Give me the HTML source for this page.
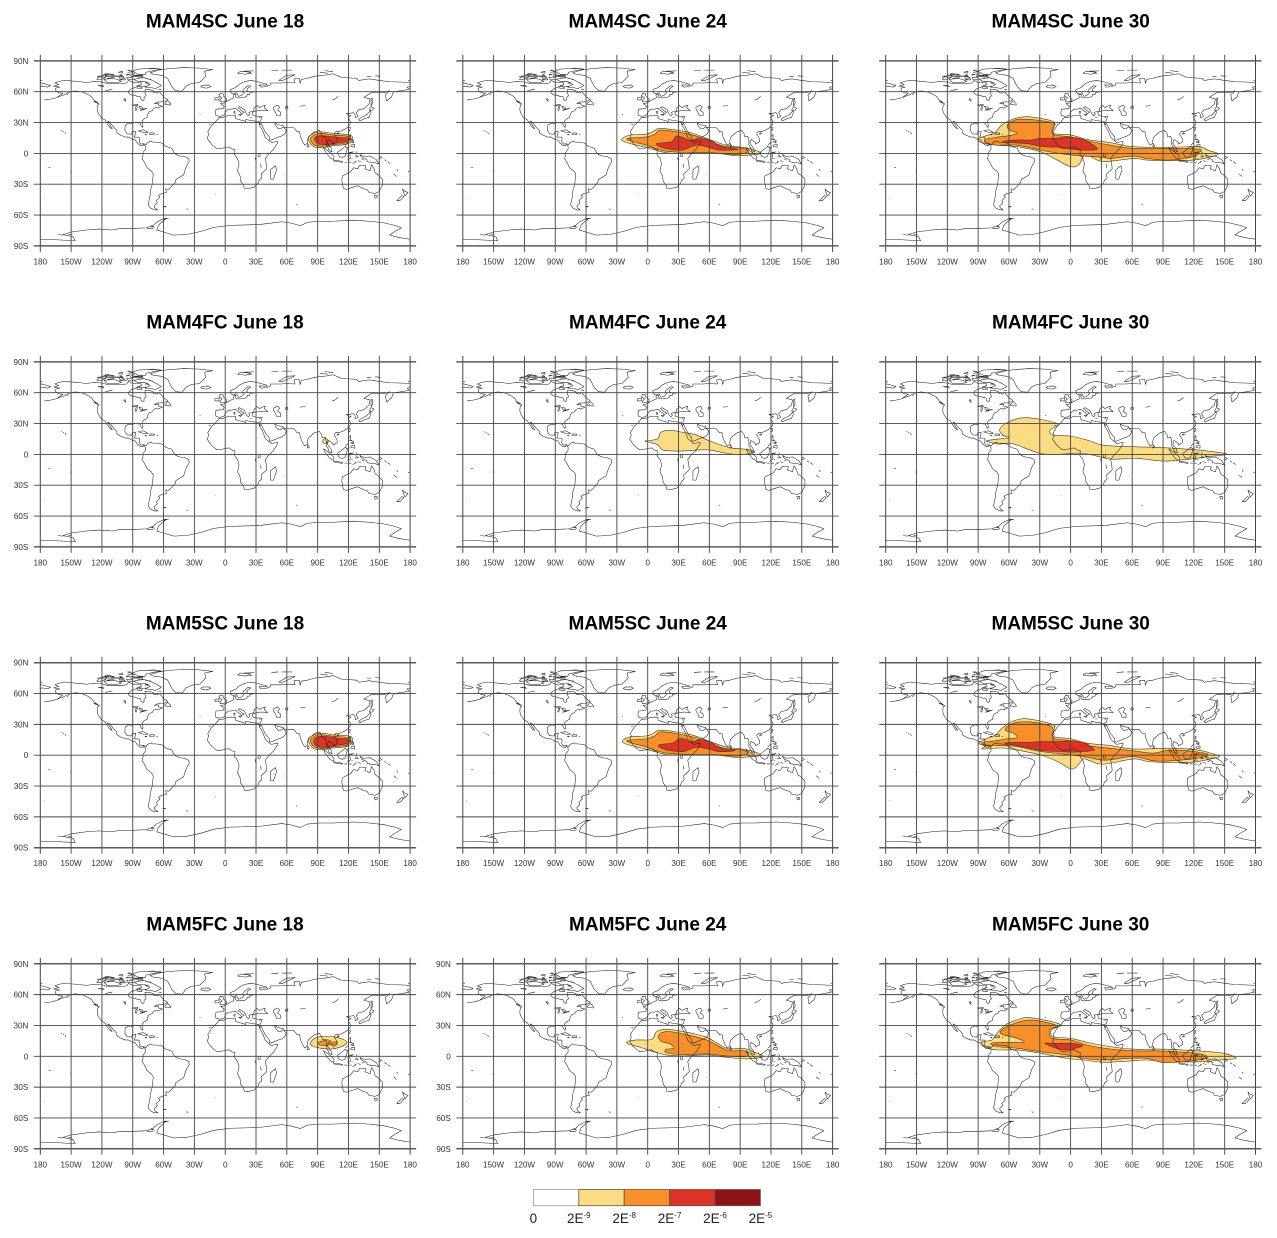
<!DOCTYPE html>
<html>
<head>
<meta charset="utf-8">
<title>Aerosol plume maps</title>
<style>
html,body{margin:0;padding:0;background:#fff;}
svg{display:block;font-family:"Liberation Sans",Arial,sans-serif;filter:blur(0.35px);}
</style>
</head>
<body>
<svg id="chart" xmlns="http://www.w3.org/2000/svg" width="1277" height="1238" viewBox="0 0 1277 1238"></svg>
<script>
// ---------- axis tick labels ----------
const lonTicks = [-180,-150,-120,-90,-60,-30,0,30,60,90,120,150,180];
const lonLabels = ["180","150W","120W","90W","60W","30W","0","30E","60E","90E","120E","150E","180"];
const latTicks = [90,60,30,0,-30,-60,-90];
const latLabels = ["90N","60N","30N","0","30S","60S","90S"];

// ---------- legend ----------
const legendColors = ["#ffffff","#fcdb85","#f98f2b","#dd3226","#8c1318"];
const legendBase = ["0","2E","2E","2E","2E","2E"];
const legendExp = ["","-9","-8","-7","-6","-5"];

// ---------- coastlines, [lon,lat] ----------
const coastLines = [
[-166,68.5,-162,70,-156,71.2,-150,70.5,-141,69.7,-135,69,-128,70,-120,69.5,-115,68,-108,68,-100,68,-96,68.5,-94,71,-90,69,-86,69,-82,69,-81.5,67,-85,66,-87,64.5,-92,62.5,-94.5,60,-94,58.7,-92,57,-88,56.5,-85,55.3,-82.3,55,-82,52.7,-80,51.3,-79,52,-79,54.5,-77,56,-78,58.5,-78,62.3,-73,62,-70,61,-69.5,59,-66,58.8,-64.5,60.3,-62,57.5,-60,55,-56,52.5,-60,50.2,-66,50,-69,48.5,-65,49,-65,47,-61,46,-65.5,44,-67,45,-70,43.5,-71,41.5,-74,40.5,-75.5,38,-76,35,-79,33.5,-81,31.5,-80,27,-80.5,25.2,-82,27,-83,29.5,-85,29.7,-89,30,-90,29,-94,29.5,-97.3,27.5,-97.7,22.5,-95.5,19,-91,18.7,-90.5,21,-87,21.3,-88,17,-88.5,15.8,-84,15.8,-83.3,14.8,-83.7,11,-82,9,-79.5,9.5,-77,8.5,-75.5,10.7,-72,12,-71,11,-68,11,-64,10.5,-61.5,10,-58,7,-52,5,-50,1,-48,-1,-44,-2.5,-40,-3,-35.5,-5,-35,-8,-37.5,-12,-39,-16,-40.5,-21,-44,-23,-48,-25.5,-48.7,-28.5,-53,-33,-55,-35,-58,-34.5,-57,-38,-62,-39,-65,-41,-63.5,-42.5,-67,-46,-66,-48,-69,-51,-68.5,-53,-65.5,-55,-69,-55,-73,-53,-75,-50,-74,-45,-73,-40,-73,-37,-71,-30,-70,-20,-72,-17,-76,-14,-79,-8,-81,-5,-80,-2,-80,1,-77.5,4,-77.5,7,-79.5,9,-80,7.5,-83,8,-85.5,10,-87.5,13,-91,14,-94.5,16,-97,15.8,-101.5,17.5,-105.5,20,-105.5,22.5,-109,26,-113,31,-114.5,31.5,-112.5,28,-110,24,-112,25,-115,29,-117,32.5,-120.5,34.5,-122.5,37.5,-124,40,-124.5,43,-124,47,-122.5,48,-125,50,-128,52,-130,55,-133,57,-136,58.5,-140,60,-146,60.8,-150,60,-153,59,-158,56.5,-163,55,-158,58.5,-162,59,-165,61,-165,63.5,-161,64.5,-167,65.5,-162,67,-166,68.5],
[-42,60.5,-48,61,-52,65,-54,69,-56,73,-62,76,-70,77,-73,78.5,-65,81,-55,82.5,-40,83.5,-25,83,-12,81.5,-20,80,-19,75,-22,72,-25,69,-33,68,-38,65.5,-42,60.5],
[-62,66,-68,63,-72,64,-78,64.5,-73,67,-78,70,-85,70,-89,72,-80,74,-72,71.5,-67,69,-62,66],
[-105,69,-115,69,-118,72,-110,73,-105,72,-101,70,-105,69],
[-120,72,-125,72,-123,74.5,-116,74,-120,72],
[-62,82,-70,83,-85,82,-90,80,-85,77,-78,76.5,-77,79,-68,81,-62,82],
[-80,75,-92,75,-92,76.5,-80,75.5,-80,75],
[-105,75,-117,75,-114,76.5,-105,75],
[-90,79,-95,81,-92,81,-90,79],
[-90,72,-95,72,-96,74,-90,73.7,-90,72],
[-98,74,-103,73,-102,76,-98,74],
[-108,76.5,-118,76,-116,78,-108,76.5],
[-100,78,-104,79,-100,80,-100,78],[-112,77.5,-120,76],[-85,76.3,-80,76.3],[-96,76,-93,77,-96,77,-96,76],[-78,73,-72,72],
[-85,73.5,-80,73.5,-85,73,-85,73.5],[-110,75,-100,75.5,-100,74.8,-110,75],[-115,73,-108,73.8],[-90,76,-85,75.5,-82,76.5],
[-125,75,-118,75.5],[-103,71.5,-97,71.5,-98,73,-103,71.5],[-75,68,-78,68.5,-75,69,-75,68],[-84,65.8,-80,65,-76,65.5],
[-65,82.5,-75,82.5],[-88,78,-95,78.5],[-65,62.5,-62,62],[-100,76,-103,77],
[-81,63,-86,63.5,-85,65.5,-81,64,-81,63],
[-53,47,-59,48,-56,51.5,-53,48.5,-53,47],
[-124,48.5,-128,50.5,-125,50,-124,48.5],
[-85,22,-80,23,-75,20.5,-78,20,-85,22],
[-74,18.5,-69,18.5,-69,19.8,-73,20,-74,18.5],
[-78,18,-76.5,18,-76.5,18.4,-78,18.4,-78,18],
[-67,18,-65.5,18.2],
[-160,22,-159,22],[-158,21.5,-157,21],[-156,20.5,-155,19.5,-155.5,19],
[-176,52,-170,52.8,-165,54,-162,55],[-154,57,-152.5,58],
[-91,47,-85,47.5,-85,46.5,-88,46.5,-91,47],
[-87.5,42,-86.5,42,-85.5,45.5,-87,45.5,-87.5,42],
[-84,46,-80.5,45,-80,44,-82,43,-84,46],
[-83,41.7,-79,42.7,-76,44,-79.5,43.2,-83,41.7],
[-124,66,-119,66,-118,65,-124,66],[-117,61,-110,62.5,-112,62,-117,61],
[-99,53,-97,50.5,-97,53,-99,53],
[-61,-52,-58,-51.5,-58,-52,-61,-52],[-38,-54,-36,-54.5],[-151,-17,-149.5,-17.5],[-172,-13.5,-170,-14],[-176.5,-44,-176,-44.2],[-9.5,-40,-9,-40.2],
[69,-49.5,70.5,-49.3],[-16,28,-14,28.5],[-25,38,-24,37.8],[-91,-0.5,-90,-0.5],
[-24,65,-22,64,-18,63.5,-14,65,-16,66.5,-22,66.3,-24,65],
[-5,50,1,51,1.5,53,-2,56,-2,58,-5,58.5,-6,56,-3,54,-5,52,-5,50],
[-10,52,-6,52,-6,55,-10,54,-10,52],
[12,78,20,77,25,79,15,80,12,78],[22,78,26,77.5],[18,80,28,80.3],
[52,71,56,71,68,76.5,60,76,52,71],[45,80.5,52,81],[55,81,65,81],[92,79,100,78],[97,80.5,105,79.5],
[138,75,142,75],[146,75.5,151,75],[178,71,180,71.3],[-180,71.3,-178,71],
[-180,68.8,-175,67.5,-170,66,-173,64.5,-178,65.5,-180,65],
[-9,37,-9.5,39,-9,43,-2,43.5,-1,46,-4.5,48.5,-1,49,2,51,4,52,7,53.5,8.5,54,8,57,10.5,57.5,10,55,12,54,14,54,19,54.5,21,55.5,21.5,57.5,24,57.5,24,59,29,60,23,60,21,61,21.5,63,25,65.5,22,65.8,17.5,62,17,60.5,18.5,59.5,16.5,57,14.5,56,13,55.5,11,59,8,58,5.5,59,5,62,10,64,14,67.5,19,70,25,71,31,70,40,67.5,41,66.5,33,66.7,35,64.5,40,65,44,66.5,44,68.5,54,68.5,60,69,68,68.5,67,72.5,72,73,73,68,74,72,80,73,87,75,100,76.5,105,77.5,113,74,128,73,130,71,140,72.5,150,71,160,69.7,170,69.5,180,69],
[180,65,177,64.5,179,62.5,172,61,164,60,163,58,162,55,157,51,156,57,160,61,155,59,150,59.5,142,59,135,54.5,141,53,140,48,135,43.5,130,42.5,127.5,39.5,129.5,36,126.5,34.5,126.5,37.5,125,39.7,121.5,39,118,39,120,37.5,122.5,37,119.5,35,122,31,121.5,28,118,24.5,114,22.3,110,21,108,21.5,106,19,109,14,109,11.5,105,9,105,10.5,102.5,12.5,100.5,13.5,99.5,10,103,5,104,1.5,101,3,100,6,98.5,8,98.5,13,97.5,16.5,94.5,16,94,19,91.5,22.5,89,21.7,87,21,85,19.5,81,16,80,13,80,10,77.5,8,75.5,11,73,17,72.5,21,70,21,68,23.5,66.5,25.2,61,25.2,57,25.5,56.5,27,51,28,48,30,49,27,51,25,51.5,24,54,24,56.5,26,59.5,22.5,58,19,55,17,52,16,45,13,43,13,43,16,39,21,35.5,28,34.8,29.5,34,28,32.7,30,33.5,27,35.5,24,37,21,39,15.5,43,12,45,10.5,51,11.8,51,10,47,4,42,-1,39,-5,40,-10,40.5,-15,35,-20,35.5,-24,33,-26,32,-29,28,-33,22,-34.3,18.5,-34,18,-31,15,-27,14.5,-22,12,-17,13.5,-10,12,-5,9,-1,9.5,3.5,6,4.5,4,6.3,1,6,-3,5,-8,4.5,-13,8.5,-15,11,-17.5,14.7,-16,19,-17,21,-13,27.5,-10,30,-6,35,-2,35,3,37,10,37,10,34,15,32.5,20,31,20,33,25,32,32,31,34.5,31.5,36,36,30,36.3,27,37,26.5,40,29,41,35,42,41.5,41.5,38,44.5,39,47,35,45.5,33.5,44.5,31,46.5,28,44,28,41.5,26,40.8,23,40,24,38,22.5,36.5,21,38,19.5,41,19,42.5,14,45.5,12.5,44.5,16,41.5,18.5,40,16.5,39,16,38,15,40,12,42,10,44,6,43,3,43,0,40,-0.5,38,-2,36.7,-5.5,36,-9,37],
[47,45,51,47,53,45,51,42,54,40,54,37,50,37,49,40,47,43,47,45],
[59,46,61,46,61,44,58.5,44,59,46],[73,46,78,46.5],[104,52,107,53,110,55.5],
[32,0,34,0,34,-3,32,-3,32,0],[29,-4,30,-8],[34.5,-10,35,-14],
[13,38,15.5,38,15,36.8,13,38],[8.5,39,9.5,39,9.5,41,8.5,41,8.5,39],[24,35.2,26,35.2],[33,35,34.5,35.3],
[131,31.5,136,34,140,35,142,40,141.5,41.5,140,40,137,37,132.5,35,130,33,131,31.5],
[140,42,143,42,145,44,142,45.5,140,42],[142,46,143.5,49,143,54,142,53,142,46],
[120,23,121,22,122,25,120.5,25,120,23],[109,18.5,111,19.5,110,20,109,19.5,109,18.5],
[120,16,122,18.5,122,14,124,13,120.5,13.8,120,16],[122,7,126,6,126,9,123,8.5,122,7],[122,11,125,10.5,125,12.5,122,11],[118,9,120,11],
[109,1,111,-3,114,-4,116.5,-3,118,1,119,5,117,7,114,4.5,110,1.5,109,1],
[95.5,5.5,98,4,103,0,106,-3,105.5,-6,102,-4,98,1,95.5,5.5],
[105.5,-6.5,110,-7,114.5,-8,114,-8.7,106,-7.5,105.5,-6.5],[116,-8.5,119,-8.5],[120,-8.7,123,-8.5],[124,-10,127,-8.5],
[120,1,125,1.5,121,0.3,122,-4.5,120.5,-5.5,119.5,-3,120,1],[127.5,2,128.5,0],[126,-3.5,130,-3.2],
[127,-1,129,-3],[133,-5.5,135,-6.5],[129,-7,132,-8],[119,-6,121,-7],[123,-5,124,-5.5],[118,5,121,6.5],[124,10,125,12],[117,8,119,10],[126,-8,128,-7.5],[150,-2.5,153,-4.5],
[131,-1,135,-3,141,-2.5,147,-6,150,-10.5,146,-9,143,-9,138,-8,138,-6,133,-4,131,-1],
[149,-5.5,152,-4.5],[155,-6,157,-7.5],[158,-8,161,-10],[167,-15,168,-17],[164,-20,167,-22.5],[178,-18,179.5,-17],
[80,6,82,7,80.5,9.5,80,6],[44,-25,47,-25,50,-16,49,-12,44,-16,44,-25],[55.5,-21,55.8,-21],[57.3,-20,57.6,-20.3],
[114,-22,113.5,-26,115,-34,118,-35,124,-33,129,-31.5,135,-34.5,138,-35,140,-38,146,-39,150,-37,153,-31,153,-25,149,-21,146,-19,145,-15,142.5,-11,141,-17,136,-15,137,-12,131,-11.5,129,-15,125,-14,122,-18,116,-21,114,-22],
[145,-41,148,-41,148,-43,146,-43.5,145,-41],
[172.5,-34.5,175,-37,178,-38,175,-41.5,174,-39,172.5,-34.5],[172,-41,174,-42,170,-46,167,-46,172,-41],
[-180,-84,-165,-84,-146,-85,-148,-81,-158,-79,-150,-76.5,-135,-74.5,-123,-73.6,-110,-74.5,-102,-73,-90,-73,-77,-72.5,-70,-70,-67,-67,-60,-63.5,-57,-63,-62,-67,-65,-70,-66.6,-74.6,-61.6,-76,-50,-79.5,-37,-78.8,-24,-76,-11,-72,5,-70,24,-69.5,35,-69,55,-66.5,65,-68,73,-70.4,80,-67,92,-66,105,-66,125,-65,140,-66,154,-67.5,165,-70,171.6,-72.3,165,-76,160,-79.5,170,-82,180,-83.5],
[-163,-79,-158,-79.5],[-153,-79,-149,-79],[-72,-70,-69,-72,-72,-71],[-76,-73,-70,-73],[-60,-64,-55,-63]
];

// ---------- plume contours per run/date, [lon,lat]; one array per filled level ----------
const mam4scJune18Level1 = [81,13.6,84,18.5,92.4,21,105.4,19.5,121.6,17.8,124,13,118.4,9,105.4,7.5,95.7,5.8,86,6.5];
const mam4scJune18Level2 = [83,13.6,86,17.5,93,19.5,105,18,120,16.5,122,13,117,10,105,8.5,96,7,87,8];
const mam4scJune18Level3 = [87,14,90,17,97,17,110,15.5,120,15,119,12,108,10,98,8.5,90,9.5];

const mam4scJune24Level1 = [-24.6,14.6,-17.5,17.8,-1.3,18.8,5,21,11.7,24.3,28,22.7,44,19.5,60,13.6,76.5,8,93,5.8,102.5,3.9,110.6,0,99,-1.6,86,-2.3,67,0,34,0,18,0.6,5,4,-4.5,6.5,-17.5,9.7,-24.6,12.3];
const mam4scJune24Level2 = [-19,14.6,-1.3,16,7,18.8,12.3,22.7,28,21,47,17,60,11.4,76.5,6.5,93,4.9,97.6,1.6,86,-1,63.6,0.6,34,1,15,2.6,-1.3,8,-17.5,12.3];
const mam4scJune24Level3 = [9,9.7,23,11.4,28,17,34,15.6,42.5,12.3,54,14.6,63.6,11.4,71.7,6.5,88,3.9,70,3.2,57,6.5,47,8,34,3.2,21.4,4.2,11.7,6.5];

const mam4scJune30Level1 = [-90.5,13.6,-83,17,-74,20,-67,27.6,-57,33,-42.5,35.7,-18,31.5,-16,26,-17,19.5,0,18,16,13.6,39,10.4,61,6.5,97,6,124.5,6.5,134,3,144,-0.6,134,-4,120,-6.5,97,-7,74,-6.5,61,-5,32,-8,19,-3,12.6,-3,8,-11,0,-13,-13,-6.5,-29.5,1.6,-52,6.5,-72,8,-85,10];
const mam4scJune30Level2 = [-83,13.6,-73,15.6,-62,17,-52,19.5,-60,23,-61,28.5,-52,33,-39,33,-18,30,-16,28,-18,23,-16,18,0,16,16,12.3,39,8,61,4.9,97,4.9,124.5,4.2,126,1.6,120,-3,97,-6.5,74,-4.9,61,-2.6,39,-4.9,32,-3.9,12.6,-2.6,-6.8,-0.6,-29.5,3.2,-52,8,-72,8,-81.5,10.4];
const mam4scJune30Level3 = [-66,11.4,-55,13,-39,13,-29.5,14.6,-16.5,14.6,0,15.6,12.6,13.6,26,4.9,19,3.2,3,3.9,-10,5.8,-26,6.5,-39,9,-55,10.4];

const mam4fcJune18Level1 = [95,13,97,15.5,100,14,99,11,96,11];

const mam4fcJune24Level1 = [-2.6,13,9.4,15,12.6,21.4,21.7,23.4,34.7,21.4,47.7,18.8,60.6,13,80,6.5,96,5,103.5,2.6,93,0,77,1,60.6,4.2,47.7,4.2,31.5,3.2,15,4.2,10.4,9,2.3,11.7];

const mam4fcJune30Level1 = [-81,13.5,-70,15,-60,16,-66,19,-69,24.6,-60,31.8,-42.5,35.7,-13,30,-20,23.7,-17,18.8,0,17.8,16,14,32,9,61,7.5,90.5,6.5,124.5,4.2,152,0.3,132.7,-2.3,116.4,-4.5,90.5,-6.5,64.5,-3.9,38.6,-4.5,12.6,1,-13,0,-29.5,1,-52,9,-60,11,-70,10,-81,12.5];

const mam5scJune18Level1 = [81,13.6,84,18.5,92.4,21.5,105.4,20,121.6,18.3,124,13,118.4,8.5,105.4,7,95.7,5.5,86,6.5];
const mam5scJune18Level2 = [83,13.6,86,18,93,20,105,18.5,120,17,122,13,117,9.5,105,8,96,6.5,87,8];
const mam5scJune18Level3 = [86,13.5,89,17.5,96,18.5,110,16.5,120,15.5,119,11.5,108,9.5,98,7.5,89,9];

const mam5scJune24Level1 = [-24,14.6,-17.5,17.8,-1.3,18.8,5,21,11.7,24.3,28,22.7,44,19.5,60,13.6,76.5,8,93,5.8,102.5,3.9,110,0,99,-1.6,86,-2.3,67,0,34,0,18,0.6,5,4,-4.5,6.5,-17.5,9.7,-24,12.3];
const mam5scJune24Level2 = [-19,14.6,-1.3,16,7,18.8,12.3,22.7,28,21,47,17,60,11.4,76.5,6.5,93,4.9,97.6,1.6,86,-1,63.6,0.6,34,1,15,2.6,-1.3,8,-17.5,12.3];
const mam5scJune24Level3 = [11,10,25,12,30,16,36,15.6,42.5,13,54,15,63.6,11.4,73,6.5,85,4.5,70,3.5,57,6.5,47,7.5,34,3.5,21.4,4.5,13,7];

const mam5scJune30Level1 = [-89.5,11.7,-81,16.5,-73,19.8,-67,26,-57,32.8,-42.5,35.4,-18,30,-16,24.6,-16.5,18,0,16,16,11.7,38.6,9.4,61,6,97,6.8,124.5,5,136,2,145,-1.3,132.7,-4.5,116.4,-7,90.5,-7,74,-6,61,-3.6,32,-8.8,19,-5.5,12.6,-3.6,6,-11,0,-13.3,-13,-6,-29.5,0.3,-52,5,-68,7,-86,6,-83,9];
const mam5scJune30Level2 = [-84.7,12.6,-73,14,-62,16,-52,17,-55.5,21.4,-63.6,24.3,-60,29,-52,32,-39,32.4,-20,28.5,-17,23.7,-17,16.5,0,14,16,9.4,38.6,6.8,61,4.2,80.8,2,97,5,124.5,3,134,0.3,123,-3,97,-5.5,80.8,-5.5,61,-1.3,38.6,-4.5,29,-4.5,12.6,-1.3,-6.8,1,-29.5,3.6,-52,8.4,-71.7,9.4,-83,10];
const mam5scJune30Level3 = [-65,11.7,-55.5,12.6,-39,12.6,-29.5,13.3,-13,13.3,3,14,14.3,11.7,23,5.2,12.6,3.6,0,2.9,-10,3.6,-26,4.2,-39,6.8,-55.5,10];

const mam5fcJune18Level1 = [82.7,13,88,18,97,19.5,108,18.5,116,16,118.6,13,112,9,103,7,92,8,85,10];
const mam5fcJune18Level2 = [90,13,95,15,100,16,104,14,109,14,107,11.5,101,11,95,10.5,92,11];

const mam5fcJune24Level1 = [-19.8,14.3,-10.7,15.9,3.9,16.5,8.8,24,18.5,26.3,34.7,24,57.4,18.5,76.9,7.8,93,7.8,102.8,4.5,112.5,-0.3,96.3,-2.6,76.9,-1,57.4,1.3,34.7,0.3,18.5,1.3,5.5,4.5,-7.5,8.8,-18.8,12];
const mam5fcJune24Level2 = [10.4,19,13.6,23,21.7,24,34.7,21.7,57.4,15.9,76.9,6,93,5.5,98,3,94.7,-0.3,76.9,0.3,57.4,2.3,34.7,1.6,18.5,3.6,17.8,6.8,25.6,7.8,21.7,12,13.6,14.3];

const mam5fcJune30Level1 = [-87,13.6,-76.5,15.9,-73,20.8,-63.6,30.5,-52,35.4,-39,37.6,-10,31,-18.8,25.6,-17,19,0,17.5,16,13.6,38.6,9.4,64.5,6.8,87,7,124.5,5.2,149,3,161,-2,145.6,-3.6,129.4,-5.2,97,-5.2,74,-3.6,58,-4.5,32,-5.8,12.6,-3.6,-3.6,-2,-29.5,3,-52,6.2,-71.7,6.2,-81.4,8.4];
const mam5fcJune30Level2 = [-77.5,12.6,-65,13.6,-45.7,13.6,-52,17.5,-65,20.8,-68.4,24,-58.7,30.5,-39,35.4,-13.3,29.8,-20.4,25.6,-18,17.5,0,16,16,11,38.6,7,64.5,5.2,87,5.2,124.5,2.6,132.7,-1.3,116.4,-4.5,90.5,-6,74,-2,58,-2,32,-3.6,12.6,-2,-3.6,1.3,-29.5,4.5,-52,7.8,-71.7,9.4];
const mam5fcJune30Level3 = [-25,12.6,-16.5,12.6,0,12.6,12,10.4,0,6.8,-11.7,7.1];

// ---------- panel list ----------
const panelTitles = [
 ["MAM4SC June 18","MAM4SC June 24","MAM4SC June 30"],
 ["MAM4FC June 18","MAM4FC June 24","MAM4FC June 30"],
 ["MAM5SC June 18","MAM5SC June 24","MAM5SC June 30"],
 ["MAM5FC June 18","MAM5FC June 24","MAM5FC June 30"]
];
const panelLevels = [
 [[mam4scJune18Level1,mam4scJune18Level2,mam4scJune18Level3],[mam4scJune24Level1,mam4scJune24Level2,mam4scJune24Level3],[mam4scJune30Level1,mam4scJune30Level2,mam4scJune30Level3]],
 [[mam4fcJune18Level1],[mam4fcJune24Level1],[mam4fcJune30Level1]],
 [[mam5scJune18Level1,mam5scJune18Level2,mam5scJune18Level3],[mam5scJune24Level1,mam5scJune24Level2,mam5scJune24Level3],[mam5scJune30Level1,mam5scJune30Level2,mam5scJune30Level3]],
 [[mam5fcJune18Level1,mam5fcJune18Level2],[mam5fcJune24Level1,mam5fcJune24Level2],[mam5fcJune30Level1,mam5fcJune30Level2,mam5fcJune30Level3]]
];

const NS = "http://www.w3.org/2000/svg";
const svg = document.getElementById("chart");
const colX = [40.3,462.8,885.7];
const rowY = [60.9,361.9,662.7,963.8];
const titleX = [225,647.7,1070.7];
const titleY = [27.6,328.6,629.6,930.6];
const PW = 369.8, PH = 185;

function make(tag, attrs, parent){
  const el = document.createElementNS(NS, tag);
  for (const k in attrs) el.setAttribute(k, attrs[k]);
  parent.appendChild(el);
  return el;
}
function xScale(x0, lon){ return x0 + (lon + 180) * PW / 360; }
function yScale(y0, lat){ return y0 + (90 - lat) * PH / 180; }
function pathFrom(arr, x0, y0, close){
  let d = "";
  for (let i = 0; i < arr.length; i += 2){
    d += (i ? "L" : "M") + xScale(x0, arr[i]).toFixed(2) + " " + yScale(y0, arr[i+1]).toFixed(2);
  }
  return d + (close ? "Z" : "");
}
// closed Catmull-Rom curve through the contour vertices
function smoothFrom(arr, x0, y0){
  const n = arr.length / 2, px = [], py = [];
  for (let i = 0; i < n; i++){ px.push(xScale(x0, arr[2*i])); py.push(yScale(y0, arr[2*i+1])); }
  let d = "M" + px[0].toFixed(2) + " " + py[0].toFixed(2);
  for (let i = 0; i < n; i++){
    const a = (i - 1 + n) % n, b = i, c = (i + 1) % n, e = (i + 2) % n;
    const c1x = px[b] + (px[c] - px[a]) / 6, c1y = py[b] + (py[c] - py[a]) / 6;
    const c2x = px[c] - (px[e] - px[b]) / 6, c2y = py[c] - (py[e] - py[b]) / 6;
    d += "C" + c1x.toFixed(2) + " " + c1y.toFixed(2) + " " + c2x.toFixed(2) + " " + c2y.toFixed(2) + " " + px[c].toFixed(2) + " " + py[c].toFixed(2);
  }
  return d + "Z";
}

panelTitles.forEach(function(row, r){
  row.forEach(function(title, c){
    const x0 = colX[c], y0 = rowY[r];
    const g = make("g", {}, svg);
    
    

    const t = make("text", {x:titleX[c], y:titleY[r], "text-anchor":"middle", "font-size":"19", "font-weight":"bold", fill:"#000"}, g);
    
    
    t.textContent = title;

    panelLevels[r][c].forEach(function(poly, level){
      const p = make("path", {d:smoothFrom(poly, x0, y0), fill:legendColors[level+1], stroke:"#4a3a20", "stroke-width":"0.6", "stroke-linejoin":"round"}, g);
      
      
    });

    const coast = make("path", {d:coastLines.map(function(l){ return pathFrom(l, x0, y0, false); }).join(""), fill:"none", stroke:"#222", "stroke-width":"0.55", "stroke-linejoin":"round"}, g);
    
    

    lonTicks.forEach(function(lon, i){
      const x = xScale(x0, lon);
      const edge = (i === 0 || i === lonTicks.length - 1);
      const ln = make("line", {x1:x, x2:x, y1:y0-6, y2:y0+PH+6, stroke:"#444", "stroke-width":edge ? "1" : "0.9"}, g);
      
      
      const tx = make("text", {x:x, y:y0+PH+18.5, "text-anchor":"middle", "font-size":"8.1", fill:"#333"}, g);
      
      
      tx.textContent = lonLabels[i];
    });

    const showLat = (c === 0) || (r === 3 && c === 1);
    latTicks.forEach(function(lat, i){
      const y = yScale(y0, lat);
      const edge = (i === 0 || i === latTicks.length - 1);
      const ln = make("line", {x1:x0-6.5, x2:x0+PW+6, y1:y, y2:y, stroke:edge ? "#5a5a5a" : "#444", "stroke-width":edge ? "1.5" : "0.9"}, g);
      
      
      if (showLat){
        const ty = make("text", {x:x0-12, y:y+3, "text-anchor":"end", "font-size":"8.1", fill:"#333"}, g);
        
        
        ty.textContent = latLabels[i];
      }
    });
  });
});

// ---------- legend ----------
const legendGroup = make("g", {}, svg);


const LX = 533.4, LY = 1189.5, LW = 45.4, LH = 16.2;
legendColors.forEach(function(col, i){
  const b = make("rect", {x:LX+i*LW, y:LY, width:LW, height:LH, fill:col, stroke:i === 0 ? "#999" : "#6b5040", "stroke-width":"0.8"}, legendGroup);
  
  
});
legendBase.forEach(function(base, i){
  const t = make("text", {x:LX+i*LW, y:1223, "text-anchor":"middle", "font-size":"13.5", fill:"#222"}, legendGroup);
  
  
  t.appendChild(document.createTextNode(base));
  if (legendExp[i]){
    const s = make("tspan", {dy:"-5", "font-size":"8"}, t);
    s.textContent = legendExp[i];
  }
});
</script>
</body>
</html>
